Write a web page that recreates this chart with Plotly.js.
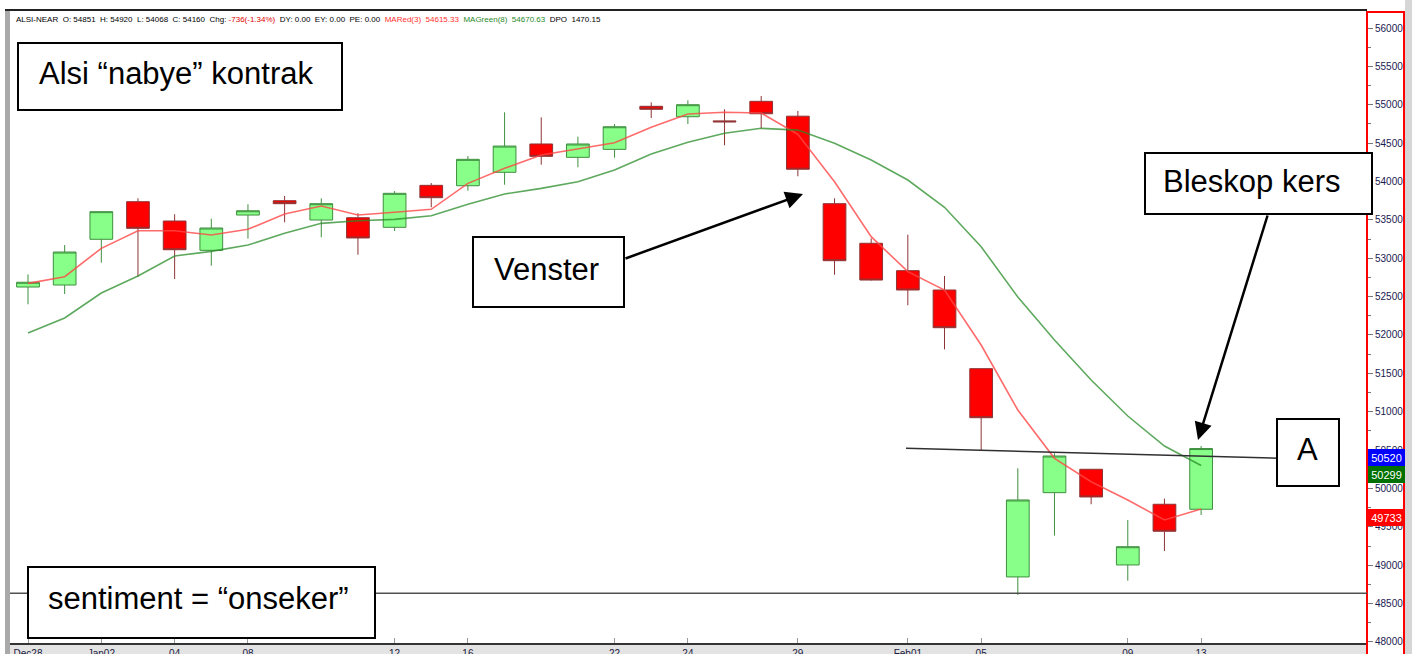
<!DOCTYPE html>
<html><head><meta charset="utf-8">
<script src="https://cdn.plot.ly/plotly-3.0.1.min.js"></script>
<style>html,body{margin:0;padding:0;background:#fff;overflow:hidden}#chart{width:1412px;height:654px}</style>
</head><body><div id="chart"></div>
<script>
// ---- data ----
const dates = ['Dec28','Dec29','Jan02','Jan03','Jan04','Jan05','Jan08','Jan09','Jan10','Jan11','Jan12','Jan15','Jan16','Jan17','Jan18','Jan19','Jan22','Jan23','Jan24','Jan25','Jan26','Jan29','Jan30','Jan31','Feb01','Feb02','Feb05','Feb06','Feb07','Feb08','Feb09','Feb12','Feb13'];
const openP  = [52625,52651,53247,53737,53485,53103,53563,53750,53498,53528,53403,53950,53945,54120,54489,54315,54419,54980,54844,54790,55045,54851,53711,53195,52838,52586,51561,48847,49945,50250,49003,49794,49729];
const highP  = [52790,53172,53610,53781,53573,53515,53703,53811,53781,53586,53876,53980,54332,54902,54836,54584,54749,55032,55058,54941,55114,54920,53781,53260,53307,52769,51561,50263,50458,50250,49589,49867,50553];
const lowP   = [52400,52534,52942,52759,52729,52903,53255,53468,53273,53046,53355,53664,53880,53958,54219,54185,54310,54827,54749,54472,54693,54068,52785,52710,52387,51813,50500,48612,49385,49794,48798,49185,49654];
const closeP = [52687,53081,53607,53390,53111,53394,53619,53711,53711,53264,53846,53789,54289,54462,54328,54489,54714,54941,55001,54778,54883,54160,52968,52716,52586,52095,50922,49850,50423,49889,49241,49442,50520];
const maRed3   = [52673,52759,53129,53359,53359,53303,53377,53576,53681,53563,53599,53638,53976,54172,54345,54423,54505,54706,54879,54902,54892,54615,53997,53281,52825,52586,51869,51023,50393,50088,49850,49589,49733];
const maGreen8 = [52026,52221,52547,52769,53029,53090,53172,53325,53455,53489,53507,53554,53703,53837,53911,53997,54150,54358,54511,54628,54693,54670,54498,54280,54019,53664,53150,52495,51935,51413,50944,50553,50299];
const tickDates = ['Dec28','Jan02','Jan04','Jan08','Jan12','Jan16','Jan22','Jan24','Jan29','Feb01','Feb05','Feb09','Feb13'];
const tickLabels = ['Dec28','Jan02','04','08','12','16','22','24','29','Feb01','05','09','13'];
const sentimentLevel = 48634;
const lineA = {x0:23.95, y0:50523, x1:34.15, y1:50393};
const lastLabels = [
  {v:50520, txt:'50520', bg:'#0000ff'},
  {v:50299, txt:'50299', bg:'#007000'},
  {v:49733, txt:'49733', bg:'#ff0000'}
];

// ---- pixel helpers for decorations ----
const L=10, R=1367, T=10, B=643;
const px = X => (X-L)/(R-L);
const py = Y => (B-Y)/(B-T);

const traces = [
  {type:'candlestick', x:dates, open:openP, high:highP, low:lowP, close:closeP,
   increasing:{fillcolor:'#88ff88', line:{color:'#3f8f3f', width:1}},
   decreasing:{fillcolor:'#ff0000', line:{color:'#8e3434', width:1}},
   whiskerwidth:0, hoverinfo:'none', showlegend:false},
  {type:'scatter', mode:'lines', x:dates, y:maRed3, line:{color:'rgba(255,70,70,0.8)', width:1.6}, hoverinfo:'none'},
  {type:'scatter', mode:'lines', x:dates, y:maGreen8, line:{color:'rgba(40,140,40,0.75)', width:1.6}, hoverinfo:'none'}
];

const box = (x0,y0,x1,y1) => ({type:'rect', xref:'paper', yref:'paper', x0:px(x0), x1:px(x1), y0:py(y1), y1:py(y0), fillcolor:'#ffffff', line:{color:'#000', width:2}, layer:'above'});
const shapes = [
  {type:'rect', xref:'paper', yref:'paper', x0:0, x1:1, y0:py(656), y1:py(643), fillcolor:'#e3e3e3', line:{width:0}, layer:'below'},
  {type:'rect', xref:'paper', yref:'paper', x0:px(5), x1:px(10), y0:py(656), y1:py(9), fillcolor:'#a9a9a9', line:{width:0}, layer:'above'},
  {type:'line', xref:'paper', yref:'paper', x0:px(5), x1:px(1367), y0:py(10), y1:py(10), line:{color:'#222', width:2}, layer:'above'},
  {type:'rect', xref:'paper', yref:'paper', x0:px(1367), x1:px(1404), y0:py(656), y1:py(12), fillcolor:'rgba(0,0,0,0)', line:{color:'#ff0000', width:2}, layer:'above'},
  {type:'rect', xref:'paper', yref:'paper', x0:px(1405), x1:px(1414), y0:py(656), y1:py(0), fillcolor:'#d6d6d6', line:{width:0}, layer:'above'},
  {type:'line', xref:'paper', yref:'y', x0:0, x1:1, y0:sentimentLevel, y1:sentimentLevel, line:{color:'#505050', width:1.5}, layer:'above'},
  {type:'line', xref:'x', yref:'y', x0:lineA.x0, y0:lineA.y0, x1:lineA.x1, y1:lineA.y1, line:{color:'#303030', width:1.5}, layer:'above'},
  box(18,43,342,110),
  box(473,237,624,307),
  box(1145,153,1372,214),
  box(1277,419,1339,486),
  box(28,567,375,638)
];

const bigFont = {family:'Liberation Sans, Arial, sans-serif', size:31, color:'#000'};
const txt = (t,X,Y) => ({xref:'paper', yref:'paper', x:px(X), y:py(Y), xanchor:'center', yanchor:'middle', text:t, showarrow:false, font:bigFont});
const nb = '\u00a0\u00a0';
const header = 'ALSI-NEAR'+nb+'O: 54851'+nb+'H: 54920'+nb+'L: 54068'+nb+'C: 54160'+nb+'Chg: <span style="color:#e00000">-736(-1.34%)</span>'+nb+'DY: 0.00'+nb+'EY: 0.00'+nb+'PE: 0.00'+nb+'<span style="color:#ff3030">MARed(3)'+nb+'54615.33</span>'+nb+'<span style="color:#2a8a2a">MAGreen(8)'+nb+'54670.63</span>'+nb+'DPO'+nb+'1470.15';
const annotations = [
  txt('Alsi \u201cnabye\u201d kontrak', 176, 73),
  txt('Venster', 546, 269),
  txt('Bleskop kers', 1251, 182),
  txt('A', 1307, 450),
  txt('sentiment = \u201conseker\u201d', 198, 598),
  {xref:'paper', yref:'paper', x:px(803), y:py(194), ax:-179, ay:65, text:'', showarrow:true, arrowhead:2, arrowsize:1.4, arrowwidth:2.5, arrowcolor:'#000', standoff:0},
  {xref:'paper', yref:'paper', x:px(1198), y:py(440), ax:70, ay:-226, text:'', showarrow:true, arrowhead:2, arrowsize:1.4, arrowwidth:2.5, arrowcolor:'#000', standoff:0},
  {xref:'paper', yref:'paper', x:px(14), y:py(20), xanchor:'left', yanchor:'middle', text:header, showarrow:false, font:{family:'Liberation Sans, Arial, sans-serif', size:8, color:'#000'}}
];
lastLabels.forEach(o => annotations.push({xref:'paper', yref:'y', x:px(1368), y:o.v, xanchor:'left', yanchor:'top', text:o.txt, showarrow:false, bgcolor:o.bg, bordercolor:o.bg, borderpad:1, width:33, height:13, font:{family:'Liberation Sans, Arial, sans-serif', size:11, color:'#fff'}}));

const layout = {
  width:1412, height:654, margin:{l:L, r:1412-R, t:T, b:654-B},
  paper_bgcolor:'#ffffff', plot_bgcolor:'#ffffff', showlegend:false,
  boxgap:0.38, boxgroupgap:0,
  xaxis:{type:'category', range:[-0.491, 36.525], tickvals:tickDates, ticktext:tickLabels,
    ticks:'inside', ticklen:5, tickcolor:'#999', showline:true, linecolor:'#333', linewidth:2,
    showgrid:false, zeroline:false, rangeslider:{visible:false}, fixedrange:true,
    tickfont:{family:'Liberation Sans, Arial, sans-serif', size:10, color:'#1a1a40'}},
  yaxis:{side:'right', range:[47986, 56235], dtick:500, tick0:0, tickformat:'d', ticks:'outside', ticklen:5, tickcolor:'#777',
    minor:{dtick:250, ticks:'outside', ticklen:3, tickcolor:'#777'},
    showgrid:false, zeroline:false, showline:false, fixedrange:true,
    tickfont:{family:'Liberation Sans, Arial, sans-serif', size:10, color:'#1a1a50'}},
  shapes:shapes, annotations:annotations
};
Plotly.newPlot('chart', traces, layout, {staticPlot:true, displayModeBar:false});
</script></body></html>
